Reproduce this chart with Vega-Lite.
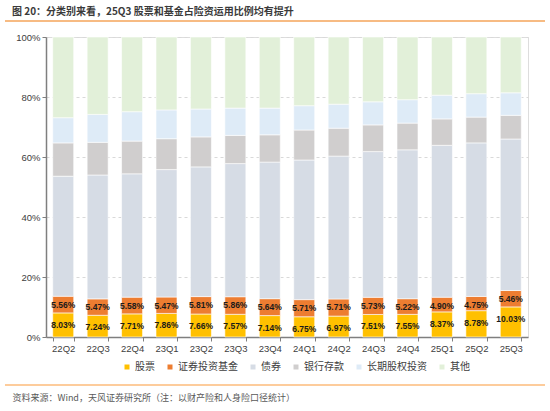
{
  "$schema": "https://vega.github.io/schema/vega-lite/v6.json",
  "width": 482,
  "height": 300,
  "autosize": {"type": "none"},
  "padding": {"left": 46, "top": 37, "right": 22, "bottom": 74},
  "background": "#ffffff",
  "title": {
    "text": "图 20：分类别来看，25Q3 股票和基金占险资运用比例均有提升",
    "anchor": "start",
    "frame": "group",
    "dx": -34,
    "offset": 3,
    "font": "Noto Sans CJK SC",
    "fontSize": 10,
    "fontWeight": "bold",
    "color": "#3a3a3a"
  },
  "datasets": {
    "alloc": [
      {"q": "22Q2", "c": "股票", "k": 1, "v": 0.0803},
      {"q": "22Q2", "c": "证券投资基金", "k": 2, "v": 0.0556},
      {"q": "22Q2", "c": "债券", "k": 3, "v": 0.4001},
      {"q": "22Q2", "c": "银行存款", "k": 4, "v": 0.111},
      {"q": "22Q2", "c": "长期股权投资", "k": 5, "v": 0.084},
      {"q": "22Q2", "c": "其他", "k": 6, "v": 0.269},
      {"q": "22Q3", "c": "股票", "k": 1, "v": 0.0724},
      {"q": "22Q3", "c": "证券投资基金", "k": 2, "v": 0.0547},
      {"q": "22Q3", "c": "债券", "k": 3, "v": 0.4129},
      {"q": "22Q3", "c": "银行存款", "k": 4, "v": 0.109},
      {"q": "22Q3", "c": "长期股权投资", "k": 5, "v": 0.093},
      {"q": "22Q3", "c": "其他", "k": 6, "v": 0.258},
      {"q": "22Q4", "c": "股票", "k": 1, "v": 0.0771},
      {"q": "22Q4", "c": "证券投资基金", "k": 2, "v": 0.0558},
      {"q": "22Q4", "c": "债券", "k": 3, "v": 0.4111},
      {"q": "22Q4", "c": "银行存款", "k": 4, "v": 0.109},
      {"q": "22Q4", "c": "长期股权投资", "k": 5, "v": 0.098},
      {"q": "22Q4", "c": "其他", "k": 6, "v": 0.249},
      {"q": "23Q1", "c": "股票", "k": 1, "v": 0.0786},
      {"q": "23Q1", "c": "证券投资基金", "k": 2, "v": 0.0547},
      {"q": "23Q1", "c": "债券", "k": 3, "v": 0.4247},
      {"q": "23Q1", "c": "银行存款", "k": 4, "v": 0.103},
      {"q": "23Q1", "c": "长期股权投资", "k": 5, "v": 0.096},
      {"q": "23Q1", "c": "其他", "k": 6, "v": 0.243},
      {"q": "23Q2", "c": "股票", "k": 1, "v": 0.0766},
      {"q": "23Q2", "c": "证券投资基金", "k": 2, "v": 0.0581},
      {"q": "23Q2", "c": "债券", "k": 3, "v": 0.4323},
      {"q": "23Q2", "c": "银行存款", "k": 4, "v": 0.100},
      {"q": "23Q2", "c": "长期股权投资", "k": 5, "v": 0.093},
      {"q": "23Q2", "c": "其他", "k": 6, "v": 0.240},
      {"q": "23Q3", "c": "股票", "k": 1, "v": 0.0757},
      {"q": "23Q3", "c": "证券投资基金", "k": 2, "v": 0.0586},
      {"q": "23Q3", "c": "债券", "k": 3, "v": 0.4437},
      {"q": "23Q3", "c": "银行存款", "k": 4, "v": 0.094},
      {"q": "23Q3", "c": "长期股权投资", "k": 5, "v": 0.091},
      {"q": "23Q3", "c": "其他", "k": 6, "v": 0.237},
      {"q": "23Q4", "c": "股票", "k": 1, "v": 0.0714},
      {"q": "23Q4", "c": "证券投资基金", "k": 2, "v": 0.0564},
      {"q": "23Q4", "c": "债券", "k": 3, "v": 0.4552},
      {"q": "23Q4", "c": "银行存款", "k": 4, "v": 0.091},
      {"q": "23Q4", "c": "长期股权投资", "k": 5, "v": 0.089},
      {"q": "23Q4", "c": "其他", "k": 6, "v": 0.237},
      {"q": "24Q1", "c": "股票", "k": 1, "v": 0.0675},
      {"q": "24Q1", "c": "证券投资基金", "k": 2, "v": 0.0571},
      {"q": "24Q1", "c": "债券", "k": 3, "v": 0.4654},
      {"q": "24Q1", "c": "银行存款", "k": 4, "v": 0.100},
      {"q": "24Q1", "c": "长期股权投资", "k": 5, "v": 0.081},
      {"q": "24Q1", "c": "其他", "k": 6, "v": 0.229},
      {"q": "24Q2", "c": "股票", "k": 1, "v": 0.0697},
      {"q": "24Q2", "c": "证券投资基金", "k": 2, "v": 0.0571},
      {"q": "24Q2", "c": "债券", "k": 3, "v": 0.4762},
      {"q": "24Q2", "c": "银行存款", "k": 4, "v": 0.093},
      {"q": "24Q2", "c": "长期股权投资", "k": 5, "v": 0.080},
      {"q": "24Q2", "c": "其他", "k": 6, "v": 0.224},
      {"q": "24Q3", "c": "股票", "k": 1, "v": 0.0751},
      {"q": "24Q3", "c": "证券投资基金", "k": 2, "v": 0.0573},
      {"q": "24Q3", "c": "债券", "k": 3, "v": 0.4856},
      {"q": "24Q3", "c": "银行存款", "k": 4, "v": 0.089},
      {"q": "24Q3", "c": "长期股权投资", "k": 5, "v": 0.077},
      {"q": "24Q3", "c": "其他", "k": 6, "v": 0.216},
      {"q": "24Q4", "c": "股票", "k": 1, "v": 0.0755},
      {"q": "24Q4", "c": "证券投资基金", "k": 2, "v": 0.0522},
      {"q": "24Q4", "c": "债券", "k": 3, "v": 0.4963},
      {"q": "24Q4", "c": "银行存款", "k": 4, "v": 0.089},
      {"q": "24Q4", "c": "长期股权投资", "k": 5, "v": 0.078},
      {"q": "24Q4", "c": "其他", "k": 6, "v": 0.209},
      {"q": "25Q1", "c": "股票", "k": 1, "v": 0.0837},
      {"q": "25Q1", "c": "证券投资基金", "k": 2, "v": 0.0490},
      {"q": "25Q1", "c": "债券", "k": 3, "v": 0.5063},
      {"q": "25Q1", "c": "银行存款", "k": 4, "v": 0.088},
      {"q": "25Q1", "c": "长期股权投资", "k": 5, "v": 0.079},
      {"q": "25Q1", "c": "其他", "k": 6, "v": 0.194},
      {"q": "25Q2", "c": "股票", "k": 1, "v": 0.0878},
      {"q": "25Q2", "c": "证券投资基金", "k": 2, "v": 0.0475},
      {"q": "25Q2", "c": "债券", "k": 3, "v": 0.5117},
      {"q": "25Q2", "c": "银行存款", "k": 4, "v": 0.086},
      {"q": "25Q2", "c": "长期股权投资", "k": 5, "v": 0.078},
      {"q": "25Q2", "c": "其他", "k": 6, "v": 0.189},
      {"q": "25Q3", "c": "股票", "k": 1, "v": 0.1003},
      {"q": "25Q3", "c": "证券投资基金", "k": 2, "v": 0.0546},
      {"q": "25Q3", "c": "债券", "k": 3, "v": 0.5051},
      {"q": "25Q3", "c": "银行存款", "k": 4, "v": 0.079},
      {"q": "25Q3", "c": "长期股权投资", "k": 5, "v": 0.075},
      {"q": "25Q3", "c": "其他", "k": 6, "v": 0.186}
    ]
  },
  "layer": [
    {
      "data": {"name": "alloc"},
      "layer": [
        {
          "mark": {"type": "bar", "stroke": "#ffffff", "strokeWidth": 0.6},
          "encoding": {
            "x": {
              "field": "q",
              "type": "ordinal",
              "sort": null,
              "scale": {"paddingInner": 0.39, "paddingOuter": 0.195},
              "axis": {
                "title": "资料来源：Wind，天风证券研究所（注：以财产险和人身险口径统计）",
                "titleFont": "Noto Sans CJK SC",
                "titleFontSize": 9,
                "titleFontWeight": "normal",
                "titleColor": "#595959",
                "titleAnchor": "start",
                "titleAlign": "left",
                "titleBaseline": "middle",
                "titleX": -34,
                "titleY": 60,
                "labelAngle": 0,
                "labelFont": "Liberation Sans",
                "labelFontSize": 9.5,
                "labelColor": "#404040",
                "labelPadding": 2,
                "tickBand": "extent",
                "tickSize": 4,
                "tickColor": "#7f7f7f",
                "domainColor": "#7f7f7f",
                "domainWidth": 1.5
              }
            },
            "y": {
              "field": "v",
              "type": "quantitative",
              "stack": "zero",
              "scale": {"domain": [0, 1], "nice": false},
              "axis": {
                "title": null,
                "values": [0, 0.2, 0.4, 0.6, 0.8, 1],
                "format": ".0%",
                "grid": true,
                "gridDash": [3, 3],
                "gridColor": "#d9d9d9",
                "domainColor": "#7f7f7f",
                "domainWidth": 1.5,
                "tickColor": "#7f7f7f",
                "tickSize": 4,
                "labelFont": "Liberation Sans",
                "labelFontSize": 9.5,
                "labelColor": "#404040",
                "labelPadding": 2
              }
            },
            "color": {
              "field": "c",
              "type": "nominal",
              "scale": {
                "domain": ["股票", "证券投资基金", "债券", "银行存款", "长期股权投资", "其他"],
                "range": ["#ffc000", "#ed7d31", "#d6dce5", "#d0cece", "#deebf7", "#e2f0d9"]
              },
              "legend": {
                "title": null,
                "orient": "none",
                "direction": "horizontal",
                "legendX": 76,
                "legendY": 325,
                "padding": 0,
                "symbolType": "square",
                "symbolSize": 25,
                "symbolStrokeWidth": 0,
                "labelFont": "Noto Sans CJK SC",
                "labelFontSize": 10,
                "labelColor": "#404040",
                "labelOffset": 3,
                "columnPadding": 10
              }
            },
            "order": {"field": "k"}
          }
        },
        {
          "transform": [{"filter": "datum.k <= 2"}],
          "mark": {"type": "text", "font": "Liberation Sans", "fontSize": 8.5, "fontWeight": "bold", "color": "#1a1a1a", "baseline": "middle", "dy": 12},
          "encoding": {
            "x": {"field": "q", "type": "ordinal", "sort": null},
            "y": {"field": "v", "type": "quantitative", "stack": "zero", "scale": {"domain": [0, 1], "nice": false}},
            "order": {"field": "k"},
            "text": {"field": "v", "type": "quantitative", "format": ".2%"},
            "opacity": {"condition": {"test": "datum.k == 1", "value": 1}, "value": 0}
          }
        },
        {
          "transform": [{"filter": "datum.k <= 2"}],
          "mark": {"type": "text", "font": "Liberation Sans", "fontSize": 8.5, "fontWeight": "bold", "color": "#1a1a1a", "baseline": "middle", "dy": 8.5},
          "encoding": {
            "x": {"field": "q", "type": "ordinal", "sort": null},
            "y": {"field": "v", "type": "quantitative", "stack": "zero", "scale": {"domain": [0, 1], "nice": false}},
            "order": {"field": "k"},
            "text": {"field": "v", "type": "quantitative", "format": ".2%"},
            "opacity": {"condition": {"test": "datum.k == 2", "value": 1}, "value": 0}
          }
        }
      ]
    },
    {
      "data": {"values": [{}]},
      "mark": {"type": "rule", "color": "#f5a55a", "strokeWidth": 1.3},
      "encoding": {
        "x": {"datum": -0.0851, "type": "quantitative", "scale": {"domain": [0, 1], "nice": false, "zero": false}, "axis": null},
        "x2": {"datum": 1.0353},
        "y": {"datum": 1.0533, "type": "quantitative"}
      }
    },
    {
      "data": {"values": [{}]},
      "mark": {"type": "rule", "color": "#fdcc9c", "strokeWidth": 2},
      "encoding": {
        "x": {"datum": -0.0851, "type": "quantitative", "scale": {"domain": [0, 1], "nice": false, "zero": false}, "axis": null},
        "x2": {"datum": 1.0353},
        "y": {"datum": -0.16, "type": "quantitative"}
      }
    }
  ],
  "resolve": {"scale": {"x": "independent"}}
}
